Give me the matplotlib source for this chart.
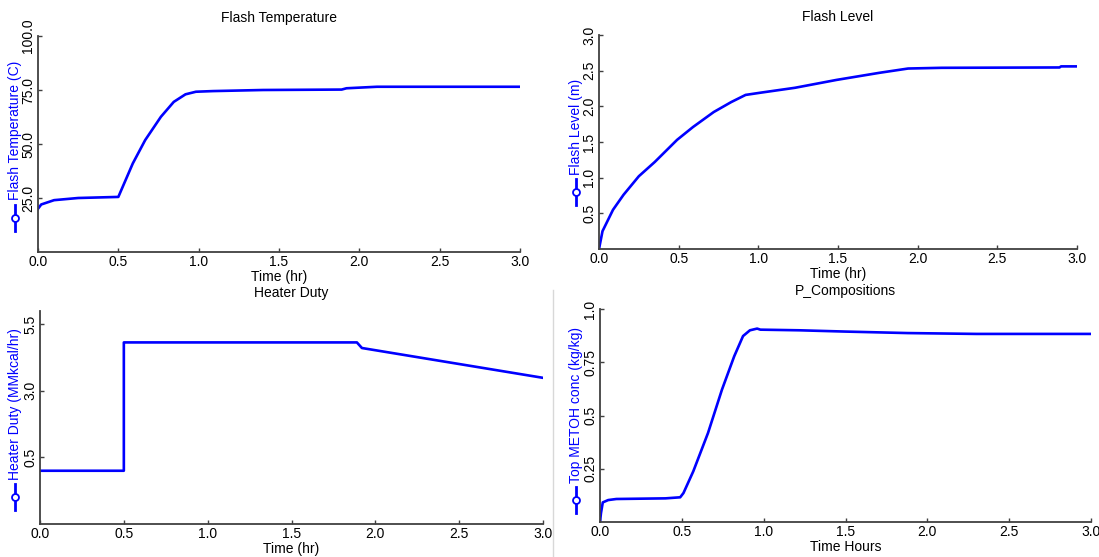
import matplotlib.pyplot as plt
from matplotlib.lines import Line2D

plt.rcParams['font.family'] = ['Liberation Sans', 'DejaVu Sans']
plt.rcParams['font.size'] = 10

# data
temp_t = [0.0, 0.02, 0.1, 0.25, 0.5, 0.59, 0.667, 0.765, 0.845, 0.918, 0.983, 1.09, 1.4, 1.89, 1.92, 2.11, 3.0]
temp_v = [20.0, 22.0, 24.0, 25.0, 25.5, 41.0, 51.8, 62.6, 69.5, 73.0, 74.2, 74.5, 75.0, 75.2, 75.8, 76.5, 76.5]

level_t = [0.0, 0.022, 0.088, 0.154, 0.25, 0.35, 0.49, 0.59, 0.72, 0.83, 0.92, 1.01, 1.23, 1.49, 1.76, 1.94, 2.15, 2.89, 2.9, 3.0]
level_v = [0.0, 0.25, 0.55, 0.76, 1.02, 1.22, 1.53, 1.71, 1.92, 2.06, 2.16, 2.19, 2.26, 2.37, 2.47, 2.53, 2.54, 2.545, 2.56, 2.56]

duty_t = [0.0, 0.5, 0.5, 1.89, 1.92, 3.0]
duty_v = [0.0, 0.0, 4.82, 4.82, 4.61, 3.49]

comp_t = [0.0, 0.006, 0.017, 0.05, 0.1, 0.4, 0.49, 0.51, 0.57, 0.66, 0.745, 0.82, 0.874, 0.916, 0.96, 0.98, 1.22, 1.5, 1.88, 2.3, 3.0]
comp_v = [0.0, 0.042, 0.092, 0.103, 0.108, 0.111, 0.116, 0.136, 0.238, 0.418, 0.621, 0.778, 0.873, 0.9, 0.908, 0.903, 0.9, 0.894, 0.887, 0.883, 0.883]

x_ticks = [0.0, 0.5, 1.0, 1.5, 2.0, 2.5, 3.0]

W, H = 1099, 557
fig = plt.figure(figsize=(W / 100, H / 100), dpi=100)


def px_axes(left, right, top, bottom):
    return fig.add_axes([left / W, 1 - bottom / H, (right - left) / W, (bottom - top) / H])


def fx(x):
    return x / W


def fy(y):
    return 1 - y / H


panels = [
    # axes box, data, ylim, yticks, ylabels, title, xlabel, ylabel, label pos
    ((38, 520, 36, 252), temp_t, temp_v, (0, 100), [25, 50, 75, 100], ['25.0', '50.0', '75.0', '100.0'],
     'Flash Temperature', 'Time (hr)', 'Flash Temperature (C)', 15, 200, 218),
    ((599, 1077, 35, 249), level_t, level_v, (0, 3), [0.5, 1.0, 1.5, 2.0, 2.5, 3.0],
     ['0.5', '1.0', '1.5', '2.0', '2.5', '3.0'],
     'Flash Level', 'Time (hr)', 'Flash Level (m)', 576, 175, 192),
    ((40, 543, 311, 524), duty_t, duty_v, (-2, 6), [0.5, 3.0, 5.5], ['0.5', '3.0', '5.5'],
     'Heater Duty', 'Time (hr)', 'Heater Duty (MMkcal/hr)', 15, 480, 497),
    ((600, 1091, 309, 522), comp_t, comp_v, (0, 1), [0.25, 0.5, 0.75, 1.0], ['0.25', '0.5', '0.75', '1.0'],
     'P_Compositions', 'Time Hours', 'Top METOH conc (kg/kg)', 576, 483, 500),
]

for box, t, v, ylim, yt, ytl, title, xlab, ylab, lx, ly, gy in panels:
    ax = px_axes(*box)
    ax.plot(t, v, color='#0000ff', lw=1.9)
    ax.set_xlim(0, 3)
    ax.set_ylim(*ylim)
    ax.set_xticks(x_ticks)
    ax.set_xticklabels(['%.1f' % x for x in x_ticks])
    ax.set_yticks(yt)
    ax.set_yticklabels(ytl, rotation=90, va='center')
    ax.tick_params(direction='in', length=3, width=1, color='#404040', labelsize=10, pad=2)
    for s in ['top', 'right']:
        ax.spines[s].set_visible(False)
    for s in ['left', 'bottom']:
        ax.spines[s].set_color('#404040')
        ax.spines[s].set_linewidth(1.3)
    ax.set_title(title, fontsize=10, pad=10)
    ax.set_xlabel(xlab, fontsize=10, labelpad=1)
    # blue y label with a legend glyph underneath
    fig.text(fx(lx), fy(ly), ylab, rotation=90, color='#0000ff', ha='center', va='bottom', fontsize=10)
    fig.add_artist(Line2D([fx(lx), fx(lx)], [fy(gy - 13), fy(gy + 13)], color='#0000ff', lw=2))
    fig.add_artist(Line2D([fx(lx)], [fy(gy)], color='#0000ff', lw=0, marker='o',
                          markersize=5, markerfacecolor='white', markeredgewidth=1.3))

# separator line between the bottom panels
fig.add_artist(Line2D([fx(553), fx(553)], [fy(290), 0], color='#d8d8d8', lw=1))

fig.savefig('out.png', dpi=100)
